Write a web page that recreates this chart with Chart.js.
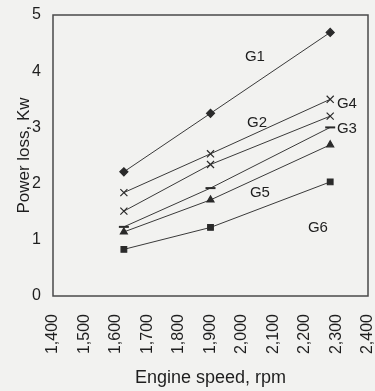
<!DOCTYPE html>
<html>
<head>
<meta charset="utf-8">
<script src="https://cdn.jsdelivr.net/npm/chart.js@4.4.0/dist/chart.umd.min.js"></script>
<style>
html,body{margin:0;padding:0;background:#f2f2f0;}
#wrap{width:375px;height:391px;}
</style>
</head>
<body>
<div id="wrap"><canvas id="c" width="375" height="391"></canvas></div>
<script>
const engineSpeed = [1625, 1900, 2280];
const G1 = [2.21, 3.25, 4.69];
const G4 = [1.84, 2.53, 3.50];
const G2 = [1.51, 2.34, 3.20];
const G3 = [1.23, 1.92, 3.00];
const G5 = [1.14, 1.71, 2.69];
const G6 = [0.83, 1.22, 2.03];
const seriesNames = ['G1', 'G4', 'G2', 'G3', 'G5', 'G6'];
const xTicks = [1400, 1500, 1600, 1700, 1800, 1900, 2000, 2100, 2200, 2300, 2400];
const yTicks = [0, 1, 2, 3, 4, 5];

const styles = {
  G1: {pointStyle: 'rectRot', radius: 4},
  G4: {pointStyle: 'crossRot', radius: 5},
  G2: {pointStyle: 'crossRot', radius: 5},
  G3: {pointStyle: 'line', radius: 5, width: 2},
  G5: {pointStyle: 'triangle', radius: 4},
  G6: {pointStyle: 'rect', radius: 4}
};
const values = {G1, G4, G2, G3, G5, G6};

// label placements (in data units) for the inline series labels
const labelPlacement = {
  G1: [2041, 4.25], G2: [2048, 3.08], G4: [2333, 3.42],
  G3: [2333, 2.97], G5: [2057, 1.83], G6: [2241, 1.21]
};

const datasets = seriesNames.map(n => ({
  label: n,
  data: engineSpeed.map((x, i) => ({x, y: values[n][i]})),
  borderColor: '#3a3a3a',
  backgroundColor: '#2a2a2a',
  borderWidth: 1,
  pointStyle: styles[n].pointStyle,
  pointRadius: styles[n].radius,
  pointBorderWidth: styles[n].width || 1.2,
  pointBorderColor: '#2a2a2a',
  pointBackgroundColor: '#2a2a2a',
  tension: 0
}));

const framePlugin = {
  id: 'frame',
  beforeDraw(chart) {
    const c = chart.ctx;
    c.save();
    c.fillStyle = '#f2f2f0';
    c.fillRect(0, 0, chart.width, chart.height);
    c.restore();
  },
  afterDatasetsDraw(chart) {
    const c = chart.ctx, a = chart.chartArea;
    c.save();
    c.strokeStyle = '#4a4a4a';
    c.lineWidth = 1.5;
    c.strokeRect(a.left, a.top, a.right - a.left, a.bottom - a.top);
    c.fillStyle = '#1e1e1e';
    c.font = '15px "Liberation Sans", Arial, sans-serif';
    c.textAlign = 'center';
    c.textBaseline = 'middle';
    const xs = chart.scales.x, ys = chart.scales.y;
    for (const n of seriesNames) {
      const p = labelPlacement[n];
      c.fillText(n, xs.getPixelForValue(p[0]), ys.getPixelForValue(p[1]));
    }
    c.restore();
  }
};

new Chart(document.getElementById('c'), {
  type: 'line',
  data: {datasets},
  plugins: [framePlugin],
  options: {
    responsive: false,
    animation: false,
    events: [],
    layout: {padding: {left: 0, right: 7, top: 15, bottom: 0}},
    plugins: {legend: {display: false}, tooltip: {enabled: false}},
    scales: {
      x: {
        type: 'linear',
        min: xTicks[0], max: xTicks[xTicks.length - 1],
        afterBuildTicks: s => { s.ticks = xTicks.map(v => ({value: v})); },
        afterFit: s => { s.height = 95; s.paddingLeft = 0; s.paddingRight = 0; },
        grid: {display: false, drawTicks: false},
        border: {display: false},
        ticks: {
          minRotation: 90, maxRotation: 90, padding: 18,
          color: '#1e1e1e',
          font: {family: '"Liberation Sans", Arial, sans-serif', size: 16},
          callback: v => v.toLocaleString('en-US')
        },
        title: {
          display: true, text: 'Engine speed, rpm', color: '#1e1e1e',
          font: {family: '"Liberation Sans", Arial, sans-serif', size: 18},
          padding: {top: 0, bottom: 2}
        }
      },
      y: {
        min: yTicks[0], max: yTicks[yTicks.length - 1],
        afterBuildTicks: s => { s.ticks = yTicks.map(v => ({value: v})); },
        afterFit: s => { s.width = 53; s.paddingTop = 0; s.paddingBottom = 0; },
        grid: {display: false, drawTicks: false},
        border: {display: false},
        ticks: {
          padding: 12, color: '#1e1e1e',
          font: {family: '"Liberation Sans", Arial, sans-serif', size: 16}
        },
        title: {
          display: true, text: 'Power loss, Kw', color: '#1e1e1e',
          font: {family: '"Liberation Sans", Arial, sans-serif', size: 17},
          padding: {top: 14, bottom: 0}
        }
      }
    }
  }
});
</script>
</body>
</html>
